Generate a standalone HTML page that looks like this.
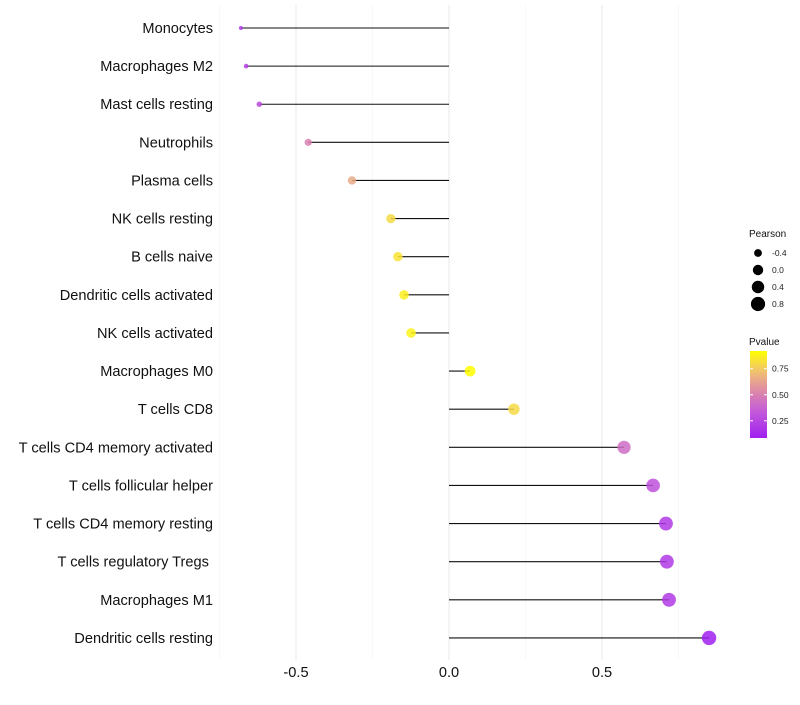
<!DOCTYPE html>
<html><head><meta charset="utf-8"><style>
body{margin:0;background:#fff;}
svg text{font-family:"Liberation Sans",sans-serif;}
</style></head><body>
<svg id="chart" width="800" height="700">
<g id="grid"></g><g id="marks"></g><g id="labels"></g><g id="legend"></g>
</svg>
<script>
const categories=["Monocytes","Macrophages M2","Mast cells resting","Neutrophils","Plasma cells","NK cells resting","B cells naive","Dendritic cells activated","NK cells activated","Macrophages M0","T cells CD8","T cells CD4 memory activated","T cells follicular helper","T cells CD4 memory resting","T cells regulatory  Tregs\u00a0","Macrophages M1","Dendritic cells resting"];
const pearson=[-0.68,-0.663,-0.62,-0.46,-0.317,-0.19,-0.167,-0.147,-0.124,0.069,0.212,0.572,0.667,0.709,0.712,0.719,0.85];
const pvalue=[0.2,0.22,0.27,0.5,0.65,0.8,0.83,0.87,0.88,0.92,0.8,0.42,0.3,0.2,0.2,0.2,0.085];
const xTicks=[-0.5,0,0.5];
const xTickLabels=["-0.5","0.0","0.5"];
const gridVals=[-0.75,-0.5,-0.25,0,0.25,0.5,0.75];
const sizeLegend=[-0.4,0,0.4,0.8];
const colorTicks=[0.25,0.5,0.75];

const NS="http://www.w3.org/2000/svg";
const x=v=>449+v*306;
const y=i=>28+i*38.12;
const r=v=>2+5.2*Math.pow(Math.max(0,(v+0.68)/1.53),0.6);
const stops=[[0,[160,32,240]],[0.33,[198,95,215]],[0.55,[222,138,165]],[0.75,[240,190,120]],[1,[255,255,0]]];
function col(p){const t=Math.max(0,Math.min(1,(p-0.085)/(0.92-0.085)));
 let k=0;while(k<stops.length-2&&t>stops[k+1][0])k++;
 const [t0,a]=stops[k],[t1,b]=stops[k+1];const s=(t-t0)/(t1-t0);
 return `rgb(${a.map((v,j)=>Math.round(v+(b[j]-v)*s)).join(',')})`;}
function mk(tag,attrs,parent,txt){const e=document.createElementNS(NS,tag);for(const k in attrs)e.setAttribute(k,attrs[k]);if(txt!=null)e.textContent=txt;(typeof parent==='string'?document.getElementById(parent):parent).appendChild(e);return e;}

gridVals.forEach(g=>{const l=mk('line',{x1:x(g),x2:x(g),y1:5,y2:660,stroke:g%0.5===0?'#ebebeb':'#f3f3f3','stroke-width':g%0.5===0?1.1:0.6},'grid');

});
categories.forEach((c,i)=>{const t=mk('text',{x:213,y:y(i)+5,'text-anchor':'end','font-size':14.6,fill:'#111'},'labels',c);

});
xTicks.forEach((v,i)=>{const t=mk('text',{x:x(v),y:677,'text-anchor':'middle','font-size':14.6,fill:'#111'},'labels',xTickLabels[i]);

});
pearson.forEach((v,i)=>{const l=mk('line',{x1:x(0),x2:x(v),y1:y(i),y2:y(i),stroke:'#111','stroke-width':1.1},'marks');


const c=mk('circle',{cx:x(v),cy:y(i),r:r(v),fill:col(pvalue[i]),'fill-opacity':0.85},'marks');

});
mk('text',{x:749,y:237,'font-size':10,fill:'#111'},'legend','Pearson');
sizeLegend.forEach((v,i)=>{const c=mk('circle',{cx:758,cy:253+i*17,r:r(v),fill:'#000'},'legend');


mk('text',{x:772,y:256+i*17,'font-size':8.5,fill:'#222'},'legend',String(v.toFixed(1)));});
mk('text',{x:749,y:345,'font-size':10,fill:'#111'},'legend','Pvalue');
const defs=mk('defs',{},'legend');const gr=mk('linearGradient',{id:'pg',x1:0,y1:1,x2:0,y2:0},defs);
for(let o=0;o<=1.0001;o+=0.1)mk('stop',{offset:o,'stop-color':col(0.085+o*(0.92-0.085))},gr);
const bar=mk('rect',{x:750,y:351,width:17,height:87,fill:'url(#pg)'},'legend');


colorTicks.forEach(v=>{const yy=438-(v-0.085)/(0.92-0.085)*87;
mk('line',{x1:750,x2:753,y1:yy,y2:yy,stroke:'#fff'},'legend');mk('line',{x1:764,x2:767,y1:yy,y2:yy,stroke:'#fff'},'legend');
mk('text',{x:772,y:yy+3,'font-size':8.5,fill:'#222'},'legend',v.toFixed(2));});
</script>
</body></html>
